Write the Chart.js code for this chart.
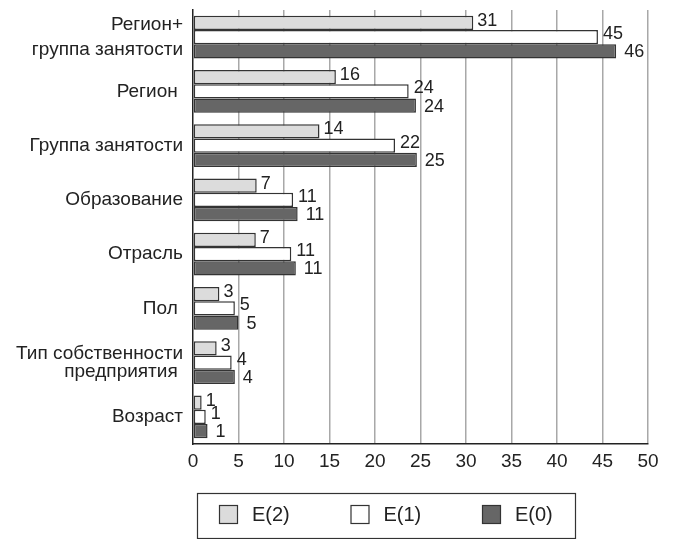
<!DOCTYPE html>
<html>
<head>
<meta charset="utf-8">
<script src="https://cdn.jsdelivr.net/npm/chart.js@4"></script>
<style>
  body { margin: 0; background: #fff; }
</style>
</head>
<body>
<canvas id="barChart" width="673" height="539"></canvas>
<script>
// categories and values
const categories = [['Регион+', 'группа занятости'], 'Регион ', 'Группа занятости', 'Образование', 'Отрасль', 'Пол ', ['Тип собственности', 'предприятия '], 'Возраст']
const seriesNames = ['E(2)', 'E(1)', 'E(0)']
const e2 = [30.8, 15.7, 13.9, 7.0, 6.9, 2.9, 2.6, 0.95]
const e1 = [44.5, 23.7, 22.2, 11.0, 10.8, 4.6, 4.25, 1.4]
const e0 = [46.5, 24.5, 24.6, 11.5, 11.3, 5.0, 4.6, 1.6]
const e2Labels = ['31', '16', '14', '7', '7', '3', '3', '1']
const e1Labels = ['45', '24', '22', '11', '11', '5', '4', '1']
const e0Labels = ['46', '24', '25', '11', '11', '5', '4', '1']
const xTicks = [0, 5, 10, 15, 20, 25, 30, 35, 40, 45, 50]

const fontFamily = '"Liberation Sans", Arial, sans-serif'
const textColor = '#222'

//Value labels next to the bar ends
const valueLabels = {
    id: 'valueLabels',
    afterDatasetsDraw(chart) {
        const ctx = chart.ctx
        const offsets = [[4, -2], [5, -3], [8, 1]]
        ctx.save()
        ctx.font = '18px ' + fontFamily
        ctx.fillStyle = textColor
        ctx.textAlign = 'left'
        ctx.textBaseline = 'middle'
        chart.data.datasets.forEach((ds, i) => {
            chart.getDatasetMeta(i).data.forEach((bar, j) => {
                ctx.fillText(ds.valueLabels[j], bar.x + offsets[i][0], bar.y + offsets[i][1])
            })
        })
        ctx.restore()
    }
}

//Boxed legend below the axis
const boxLegend = {
    id: 'boxLegend',
    afterDraw(chart) {
        const ctx = chart.ctx
        const area = chart.chartArea
        const left = area.left + 4, top = area.bottom + 49
        const w = 378, h = 45
        ctx.save()
        ctx.strokeStyle = '#333'
        ctx.lineWidth = 1.2
        ctx.strokeRect(left + 0.5, top + 0.5, w, h)
        ctx.font = '20px ' + fontFamily
        ctx.textBaseline = 'middle'
        chart.data.datasets.forEach((ds, i) => {
            const x = left + 22 + i * 131.5
            const y = top + 12
            ctx.fillStyle = ds.backgroundColor
            ctx.fillRect(x, y, 18, 18)
            ctx.strokeStyle = '#333'
            ctx.strokeRect(x + 0.5, y + 0.5, 18, 18)
            ctx.fillStyle = textColor
            ctx.fillText(ds.label, x + 33, y + 10)
        })
        ctx.restore()
    }
}

var ctx = document.getElementById('barChart').getContext('2d')
var myChart = new Chart(ctx, {
    type: 'bar',
    data: {
        labels: categories,
        datasets: [
            { label: seriesNames[0], data: e2, valueLabels: e2Labels, backgroundColor: '#dcdcdc' },
            { label: seriesNames[1], data: e1, valueLabels: e1Labels, backgroundColor: '#ffffff' },
            { label: seriesNames[2], data: e0, valueLabels: e0Labels, backgroundColor: '#666666' }
        ]
    },
    options: {
        indexAxis: 'y',
        responsive: false,
        animation: false,
        layout: { padding: { top: 10, right: 25, left: 0, bottom: 0 } },
        datasets: {
            bar: {
                borderColor: '#333',
                borderWidth: 1.5,
                borderSkipped: false,
                categoryPercentage: 0.79,
                barPercentage: 1
            }
        },
        scales: {
            x: {
                min: 0,
                max: 50,
                afterBuildTicks: s => { s.ticks = xTicks.map(v => ({ value: v })) },
                afterFit: s => { s.height = 95; s.paddingLeft = 0; s.paddingRight = 0 },
                grid: {
                    color: c => c.index === 0 ? 'rgba(0,0,0,0)' : '#a8a8a8',
                    lineWidth: 1.5,
                    drawTicks: false
                },
                border: { color: '#222', width: 1.5 },
                ticks: {
                    padding: 6,
                    autoSkip: false,
                    maxRotation: 0,
                    color: textColor,
                    font: { family: fontFamily, size: 19 }
                }
            },
            y: {
                afterFit: s => { s.width = 193; s.paddingTop = 0; s.paddingBottom = 0 },
                grid: { display: false, drawTicks: false },
                border: { color: '#222', width: 1.5 },
                ticks: {
                    padding: 10,
                    autoSkip: false,
                    color: textColor,
                    font: c => ({ family: fontFamily, size: 19, lineHeight: c.index === 0 ? 1.35 : 0.95 })
                }
            }
        },
        plugins: {
            legend: { display: false },
            tooltip: { enabled: false }
        }
    },
    plugins: [valueLabels, boxLegend]
})
</script>
</body>
</html>
